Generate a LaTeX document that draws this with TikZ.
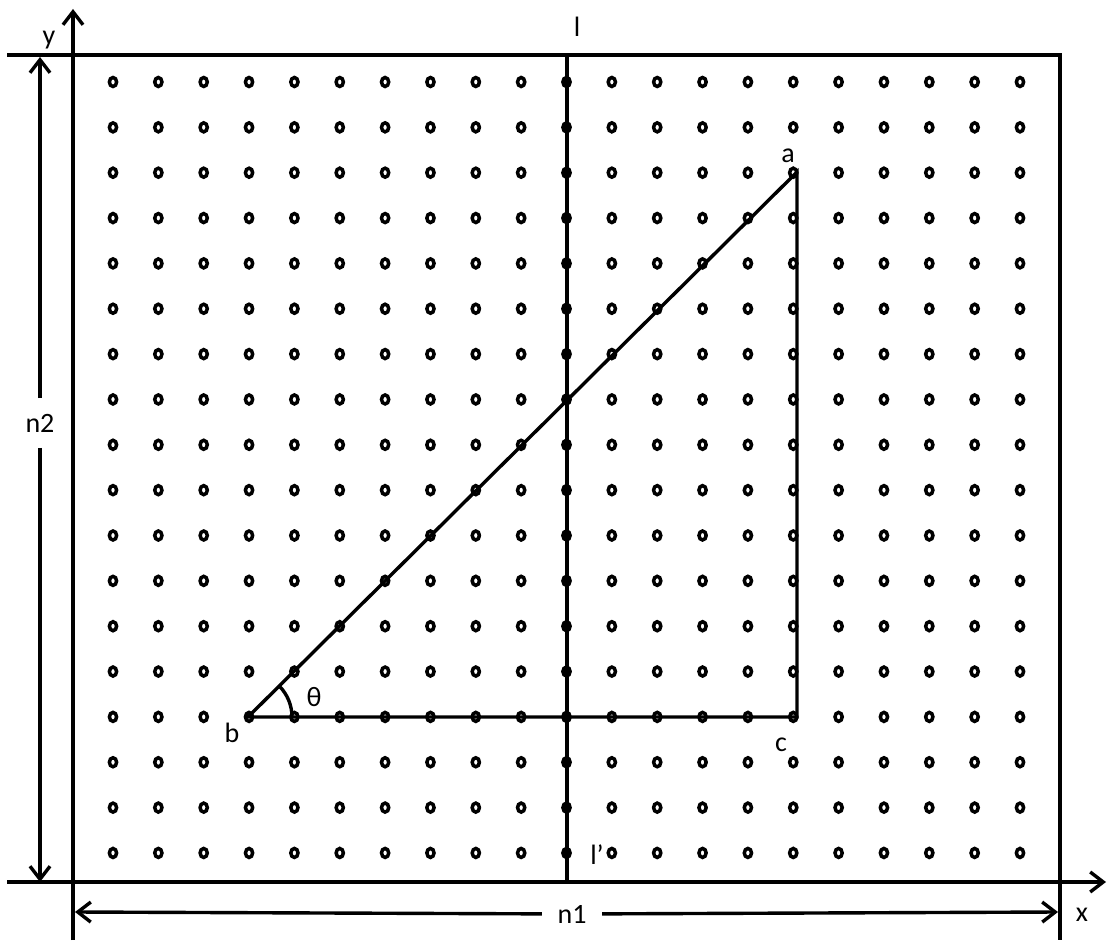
\documentclass[tikz,border=0pt]{standalone}
\usepackage{fontspec}
\setmainfont{Carlito}
\usetikzlibrary{arrows.meta}
\begin{document}
\begin{tikzpicture}[x=1pt,y=-1pt,
  line width=3.4pt,
  arr/.style={-{Straight Barb[length=13pt,width=20pt,line width=3.4pt]}},
  dot/.style={line width=3.5pt},
  lbl/.style={font=\fontsize{28}{30}\selectfont, inner sep=0pt}]
\useasboundingbox (0,0) rectangle (1112,944);
% coordinates
\coordinate (tl) at (7,55);
\coordinate (tr) at (1060,55);
\coordinate (rb) at (1060,940);
\coordinate (xl) at (7,882);
\coordinate (xr) at (1106,882);
\coordinate (yb) at (73,940);
\coordinate (yt) at (73,9);
\coordinate (lt) at (567,55);
\coordinate (lb) at (567,882);
\coordinate (n2t) at (40,57);
\coordinate (n2b) at (40,882);
\coordinate (n1l) at (75,912);
\coordinate (n1r) at (1058,912);
% dots
\foreach \i in {0,...,20}{
  \foreach \j in {0,...,17}{
    \draw[dot] ({113+45.35*\i},{82+45.35*\j}) ellipse[x radius=3.6pt, y radius=4.5pt];
  }
}
% frame
\draw (tl) -- (tr) -- (rb);
\draw[arr] (xl) -- (xr);
\draw[arr] (yb) -- (yt);
\draw (lt) -- (lb);
% triangle
\coordinate (b) at (248,717);
\coordinate (c) at (797,717);
\coordinate (a) at (797,172);
\draw (b) -- (a) -- (c) -- cycle;
\draw (b) ++(44,0) arc[start angle=0,end angle=-45,radius=44];
% dimension arrows
\node[lbl, inner ysep=14pt] (n2) at (40,423) {n2};
\draw[arr] (n2) -- (n2t);
\draw[arr] (n2) -- (n2b);
\node[lbl, inner xsep=14pt] (n1) at (572,914) {n1};
\draw[arr] (n1) -- (n1l);
\draw[arr] (n1) -- (n1r);
% labels
\node[lbl] (lx) at (1082,915) {x};
\node[lbl] (ly) at (49,40) {y};
\node[lbl] (ll) at (577,27) {l};
\node[lbl] (llp) at (597,855) {l’};
\node[lbl] (la) at (788,156) {a};
\node[lbl] (lbb) at (232,733) {b};
\node[lbl] (lc) at (781,745) {c};
\node[lbl] (lth) at (314,697) {θ};
\end{tikzpicture}
\end{document}
